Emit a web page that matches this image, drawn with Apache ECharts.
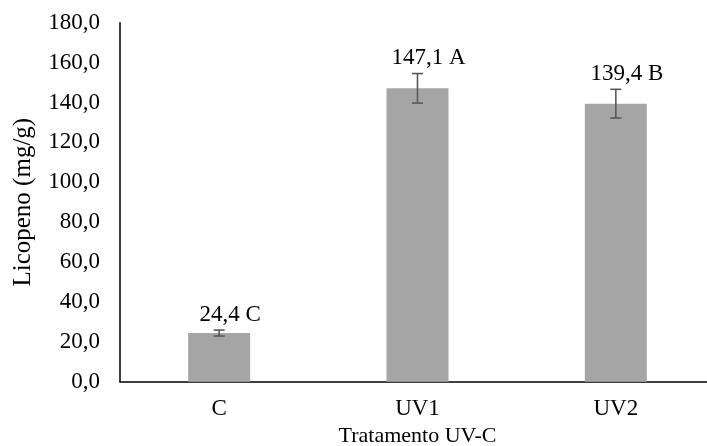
<!DOCTYPE html>
<html>
<head>
<meta charset="utf-8">
<script src="https://cdn.jsdelivr.net/npm/echarts@6/dist/echarts.min.js"></script>
<style>
  html, body { margin: 0; padding: 0; background: #fff; }
  #chart { width: 707px; height: 446px; }
</style>
</head>
<body>
<div id="chart"></div>
<script>
// Treatments, mean lycopene content, error (±) and significance letters
const categories = ['C', 'UV1', 'UV2'];
const values = [24.4, 147.1, 139.4];
const errors = [1.5, 7.4, 7.2];
const letters = ['C', 'A', 'B'];

// Y axis range
const yMin = 0;
const yMax = 180;
const yStep = 20;

const FONT = '"Liberation Serif", "Times New Roman", serif';
const fmt = v => v.toFixed(1).replace('.', ',');

const chart = echarts.init(document.getElementById('chart'), null, { renderer: 'canvas' });

const errorData = categories.map((c, i) => [i, values[i], errors[i]]);

chart.setOption({
  animation: false,
  backgroundColor: '#fff',
  grid: { left: 120, right: -8, top: 22.7, bottom: 64.3, containLabel: false, outerBoundsMode: 'none' },
  xAxis: {
    type: 'category',
    data: categories,
    axisLine: { show: true, lineStyle: { color: '#000', width: 1.5 } },
    axisTick: { show: false },
    axisLabel: { color: '#000', fontFamily: FONT, fontSize: 23, margin: 16 },
    name: 'Tratamento UV-C',
    nameLocation: 'middle',
    nameGap: 36,
    nameTextStyle: { color: '#000', fontFamily: FONT, fontSize: 22 }
  },
  yAxis: {
    type: 'value',
    min: yMin,
    max: yMax,
    interval: yStep,
    axisLine: { show: true, lineStyle: { color: '#000', width: 1.5 } },
    axisTick: { show: false },
    splitLine: { show: false },
    axisLabel: { color: '#000', fontFamily: FONT, fontSize: 23, margin: 20, formatter: v => fmt(v) },
    name: 'Licopeno (mg/g)',
    nameLocation: 'middle',
    nameGap: 84,
    nameRotate: 90,
    nameTextStyle: { color: '#000', fontFamily: FONT, fontSize: 25 }
  },
  series: [
    {
      type: 'bar',
      data: values,
      barWidth: 62,
      itemStyle: { color: '#A5A5A5' }
    },
    {
      type: 'custom',
      clip: false,
      z: 5,
      data: errorData,
      renderItem: function (params, api) {
        const i = api.value(0);
        const v = api.value(1);
        const e = api.value(2);
        const letter = letters[i];
        const top = api.coord([i, v + e]);
        const bot = api.coord([i, v - e]);
        const cap = 5.5;
        const ls = { stroke: '#595959', lineWidth: 1.6 };
        return {
          type: 'group',
          children: [
            { type: 'line', shape: { x1: top[0], y1: top[1], x2: bot[0], y2: bot[1] }, style: ls },
            { type: 'line', shape: { x1: top[0] - cap, y1: top[1], x2: top[0] + cap, y2: top[1] }, style: ls },
            { type: 'line', shape: { x1: bot[0] - cap, y1: bot[1], x2: bot[0] + cap, y2: bot[1] }, style: ls },
            {
              type: 'text',
              x: top[0],
              y: top[1] - 4,
              style: {
                text: '{s|}' + fmt(v) + ' ' + letter,
                rich: { s: { width: 22 } },
                align: 'center',
                verticalAlign: 'bottom',
                fontFamily: FONT,
                fontSize: 23,
                fill: '#000'
              }
            }
          ]
        };
      }
    }
  ]
});
</script>
</body>
</html>
